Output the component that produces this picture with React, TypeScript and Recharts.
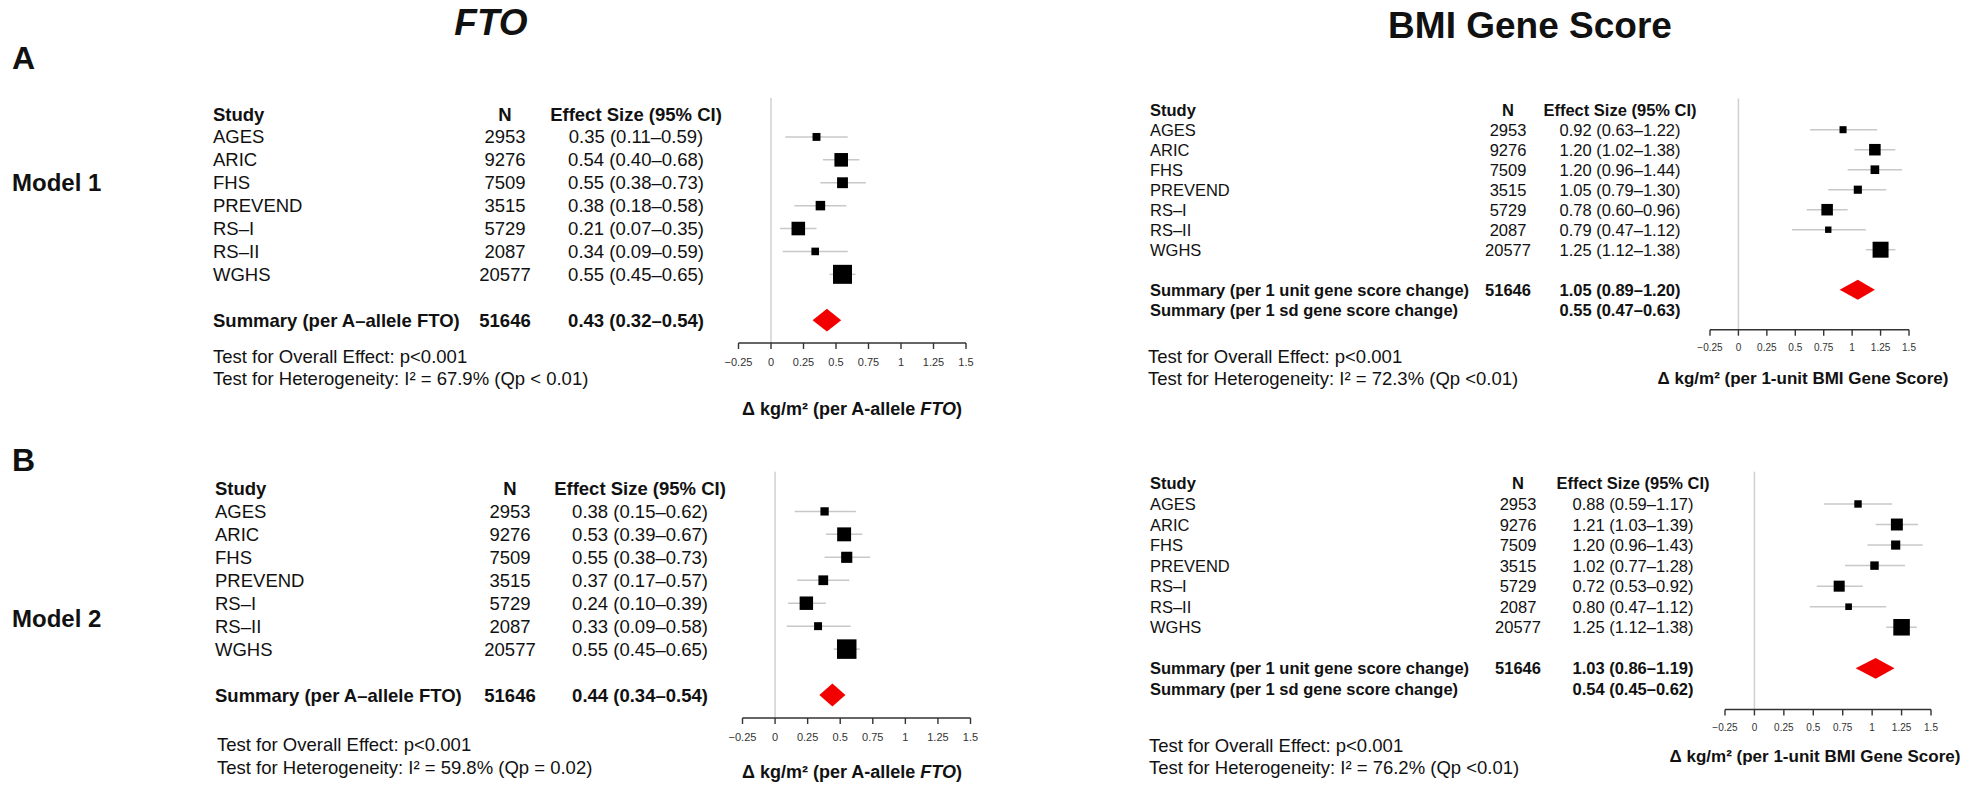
import React from "react";
import { ComposedChart, Scatter, ErrorBar, XAxis, YAxis, ReferenceLine } from "recharts";

const W = 1975;
const H = 785;
const AXIS_H = 30;
const FONT = "'Liberation Sans', Arial, Helvetica, sans-serif";

const studies = ["AGES", "ARIC", "FHS", "PREVEND", "RS–I", "RS–II", "WGHS"];
const sampleSizes = [2953, 9276, 7509, 3515, 5729, 2087, 20577];
const totalN = 51646;
const xTicks = [-0.25, 0, 0.25, 0.5, 0.75, 1, 1.25, 1.5];

// FTO, model 1
const ftoM1Est = [0.35, 0.54, 0.55, 0.38, 0.21, 0.34, 0.55];
const ftoM1Lo = [0.11, 0.4, 0.38, 0.18, 0.07, 0.09, 0.45];
const ftoM1Hi = [0.59, 0.68, 0.73, 0.58, 0.35, 0.59, 0.65];
const ftoM1Summary = [0.43, 0.32, 0.54];

// FTO, model 2
const ftoM2Est = [0.38, 0.53, 0.55, 0.37, 0.24, 0.33, 0.55];
const ftoM2Lo = [0.15, 0.39, 0.38, 0.17, 0.1, 0.09, 0.45];
const ftoM2Hi = [0.62, 0.67, 0.73, 0.57, 0.39, 0.58, 0.65];
const ftoM2Summary = [0.44, 0.34, 0.54];

// BMI gene score, model 1
const gsM1Est = [0.92, 1.2, 1.2, 1.05, 0.78, 0.79, 1.25];
const gsM1Lo = [0.63, 1.02, 0.96, 0.79, 0.6, 0.47, 1.12];
const gsM1Hi = [1.22, 1.38, 1.44, 1.3, 0.96, 1.12, 1.38];
const gsM1Summary = [1.05, 0.89, 1.2];
const gsM1SdSummary = [0.55, 0.47, 0.63];

// BMI gene score, model 2
const gsM2Est = [0.88, 1.21, 1.2, 1.02, 0.72, 0.8, 1.25];
const gsM2Lo = [0.59, 1.03, 0.96, 0.77, 0.53, 0.47, 1.12];
const gsM2Hi = [1.17, 1.39, 1.43, 1.28, 0.92, 1.12, 1.38];
const gsM2Summary = [1.03, 0.86, 1.19];
const gsM2SdSummary = [0.54, 0.45, 0.62];

const fmtTick = (v: number) => (v < 0 ? "−" + String(-v) : String(v));
const fmtCI = (e: number, l: number, h: number) => `${e.toFixed(2)} (${l.toFixed(2)}–${h.toFixed(2)})`;

function Txt({ x, y, size, weight = "normal", anchor = "start", italic = false, children }: any) {
  return (
    <text
      x={x}
      y={y}
      fontSize={size}
      fontWeight={weight}
      fontStyle={italic ? "italic" : "normal"}
      textAnchor={anchor}
      dominantBaseline="central"
      fontFamily={FONT}
      fill="#111"
    >
      {children}
    </text>
  );
}

type Geom = {
  plotLeft: number; plotRight: number; plotTop: number; rowH: number; yMin: number; yMax: number;
  studyX: number; nX: number; effX: number; tableSize: number;
  testX: number; testY: number[]; titleX: number; titleY: number; titleSize: number;
  tickSize: number; tickMargin: number; boxScale: number;
};

type Panel = {
  est: number[]; lo: number[]; hi: number[];
  summary: number[]; summaryLabel: string;
  sdSummary?: number[]; sdLabel?: string;
  heterogeneity: string;
  axisTitle: React.ReactNode;
  geom: Geom;
  extra?: React.ReactNode;
};

function ForestPanel({ p }: { p: Panel }) {
  const g = p.geom;
  const plotBottom = g.plotTop + (g.yMax - g.yMin) * g.rowH;
  const rowY = (i: number) => g.plotTop + (i - g.yMin) * g.rowH;

  const rows = p.est.map((e, i) => ({
    x: e,
    y: i + 1,
    err: [e - p.lo[i], p.hi[i] - e],
    w: p.hi[i] - p.lo[i],
  }));
  const [sEst, sLo, sHi] = p.summary;
  // diamond vertices: left, top, right, bottom
  const diamond = [
    { x: sLo, y: 9 },
    { x: sEst, y: 8.5 },
    { x: sHi, y: 9 },
    { x: sEst, y: 9.5 },
  ];

  return (
    <div style={{ position: "absolute", left: 0, top: 0 }}>
      <ComposedChart
        width={W}
        height={H}
        margin={{ top: g.plotTop, left: g.plotLeft, right: W - g.plotRight, bottom: H - plotBottom - AXIS_H }}
      >
        <XAxis
          type="number"
          dataKey="x"
          domain={[-0.25, 1.5]}
          ticks={xTicks}
          interval={0}
          allowDataOverflow
          height={AXIS_H}
          tickSize={6}
          tickMargin={g.tickMargin}
          axisLine={{ stroke: "#333", strokeWidth: 1.4 }}
          tickLine={{ stroke: "#333", strokeWidth: 1.4 }}
          tick={{ fontSize: g.tickSize, fill: "#333", fontFamily: FONT }}
          tickFormatter={fmtTick}
        />
        <YAxis type="number" dataKey="y" domain={[g.yMin, g.yMax]} reversed hide width={0} allowDataOverflow />
        <ReferenceLine x={0} stroke="#d0d0d0" strokeWidth={1.5} />
        <Scatter
          data={rows}
          isAnimationActive={false}
          shape={(s: any) => {
            const size = g.boxScale / s.payload.w;
            return <rect x={s.cx - size / 2} y={s.cy - size / 2} width={size} height={size} fill="#000" />;
          }}
        >
          <ErrorBar dataKey="err" direction="x" width={0} stroke="#c8c8c8" strokeWidth={1.5} />
        </Scatter>
        <Scatter
          data={diamond}
          isAnimationActive={false}
          shape={() => <g />}
          lineType="joint"
          line={(lp: any) => (
            <polygon
              points={lp.points.map((pt: any) => `${pt.x},${pt.y}`).join(" ")}
              fill="#f20000"
              stroke="none"
            />
          )}
        />

        <Txt x={g.studyX} y={rowY(0)} size={g.tableSize} weight="bold">Study</Txt>
        <Txt x={g.nX} y={rowY(0)} size={g.tableSize} weight="bold" anchor="middle">N</Txt>
        <Txt x={g.effX} y={rowY(0)} size={g.tableSize} weight="bold" anchor="middle">Effect Size (95% CI)</Txt>
        {studies.map((s, i) => (
          <g key={s}>
            <Txt x={g.studyX} y={rowY(i + 1)} size={g.tableSize}>{s}</Txt>
            <Txt x={g.nX} y={rowY(i + 1)} size={g.tableSize} anchor="middle">{sampleSizes[i]}</Txt>
            <Txt x={g.effX} y={rowY(i + 1)} size={g.tableSize} anchor="middle">{fmtCI(p.est[i], p.lo[i], p.hi[i])}</Txt>
          </g>
        ))}
        <Txt x={g.studyX} y={rowY(9)} size={g.tableSize} weight="bold">{p.summaryLabel}</Txt>
        <Txt x={g.nX} y={rowY(9)} size={g.tableSize} weight="bold" anchor="middle">{totalN}</Txt>
        <Txt x={g.effX} y={rowY(9)} size={g.tableSize} weight="bold" anchor="middle">{fmtCI(sEst, sLo, sHi)}</Txt>
        {p.sdSummary && (
          <g>
            <Txt x={g.studyX} y={rowY(10)} size={g.tableSize} weight="bold">{p.sdLabel}</Txt>
            <Txt x={g.effX} y={rowY(10)} size={g.tableSize} weight="bold" anchor="middle">
              {fmtCI(p.sdSummary[0], p.sdSummary[1], p.sdSummary[2])}
            </Txt>
          </g>
        )}
        <Txt x={g.testX} y={g.testY[0]} size={18.5}>Test for Overall Effect: p&lt;0.001</Txt>
        <Txt x={g.testX} y={g.testY[1]} size={18.5}>{p.heterogeneity}</Txt>
        <Txt x={g.titleX} y={g.titleY} size={g.titleSize} weight="bold" anchor="middle">{p.axisTitle}</Txt>
        {p.extra}
      </ComposedChart>
    </div>
  );
}

const ftoTitle = (
  <>
    Δ kg/m² (per A-allele <tspan fontStyle="italic">FTO</tspan>)
  </>
);
const gsTitle = "Δ kg/m² (per 1-unit BMI Gene Score)";

const panels: Panel[] = [
  {
    est: ftoM1Est, lo: ftoM1Lo, hi: ftoM1Hi, summary: ftoM1Summary,
    summaryLabel: "Summary (per A–allele FTO)",
    heterogeneity: "Test for Heterogeneity:  I² = 67.9% (Qp < 0.01)",
    axisTitle: ftoTitle,
    geom: {
      plotLeft: 738.5, plotRight: 966, plotTop: 98, rowH: 22.9, yMin: -0.7, yMax: 10,
      studyX: 213, nX: 505, effX: 636, tableSize: 18.5,
      testX: 213, testY: [356, 378], titleX: 852, titleY: 409, titleSize: 18,
      tickSize: 11, tickMargin: 9, boxScale: 3.8,
    },
    extra: (
      <g>
        <Txt x={491} y={22} size={37} weight="bold" anchor="middle" italic>FTO</Txt>
        <Txt x={12} y={58} size={32} weight="bold">A</Txt>
        <Txt x={12} y={182} size={24} weight="bold">Model 1</Txt>
      </g>
    ),
  },
  {
    est: gsM1Est, lo: gsM1Lo, hi: gsM1Hi, summary: gsM1Summary,
    summaryLabel: "Summary (per 1 unit gene score change)",
    sdSummary: gsM1SdSummary, sdLabel: "Summary (per 1 sd gene score change)",
    heterogeneity: "Test for Heterogeneity:  I² = 72.3% (Qp <0.01)",
    axisTitle: gsTitle,
    geom: {
      plotLeft: 1710, plotRight: 1909, plotTop: 98.5, rowH: 20, yMin: -0.56, yMax: 11,
      studyX: 1150, nX: 1508, effX: 1620, tableSize: 16.5,
      testX: 1148, testY: [356, 378], titleX: 1803, titleY: 378, titleSize: 17,
      tickSize: 10, tickMargin: 8, boxScale: 4.15,
    },
    extra: <Txt x={1530} y={25} size={37} weight="bold" anchor="middle">BMI Gene Score</Txt>,
  },
  {
    est: ftoM2Est, lo: ftoM2Lo, hi: ftoM2Hi, summary: ftoM2Summary,
    summaryLabel: "Summary (per A–allele FTO)",
    heterogeneity: "Test for Heterogeneity:  I² = 59.8% (Qp = 0.02)",
    axisTitle: ftoTitle,
    geom: {
      plotLeft: 742.5, plotRight: 970.5, plotTop: 471.7, rowH: 22.95, yMin: -0.73, yMax: 10,
      studyX: 215, nX: 510, effX: 640, tableSize: 18.5,
      testX: 217, testY: [744, 767], titleX: 852, titleY: 772, titleSize: 18,
      tickSize: 11, tickMargin: 9, boxScale: 3.9,
    },
    extra: (
      <g>
        <Txt x={12} y={460} size={32} weight="bold">B</Txt>
        <Txt x={12} y={618} size={24} weight="bold">Model 2</Txt>
      </g>
    ),
  },
  {
    est: gsM2Est, lo: gsM2Lo, hi: gsM2Hi, summary: gsM2Summary,
    summaryLabel: "Summary (per 1 unit gene score change)",
    sdSummary: gsM2SdSummary, sdLabel: "Summary (per 1 sd gene score change)",
    heterogeneity: "Test for Heterogeneity:  I² = 76.2% (Qp <0.01)",
    axisTitle: gsTitle,
    geom: {
      plotLeft: 1725, plotRight: 1931, plotTop: 471.7, rowH: 20.55, yMin: -0.57, yMax: 11,
      studyX: 1150, nX: 1518, effX: 1633, tableSize: 16.5,
      testX: 1149, testY: [745, 767], titleX: 1815, titleY: 756, titleSize: 17,
      tickSize: 10, tickMargin: 8, boxScale: 4.3,
    },
  },
];

export default function App() {
  return (
    <div style={{ position: "absolute", left: 0, top: 0, width: W, height: H, background: "#fff" }}>
      {panels.map((p, i) => (
        <ForestPanel key={i} p={p} />
      ))}
    </div>
  );
}
